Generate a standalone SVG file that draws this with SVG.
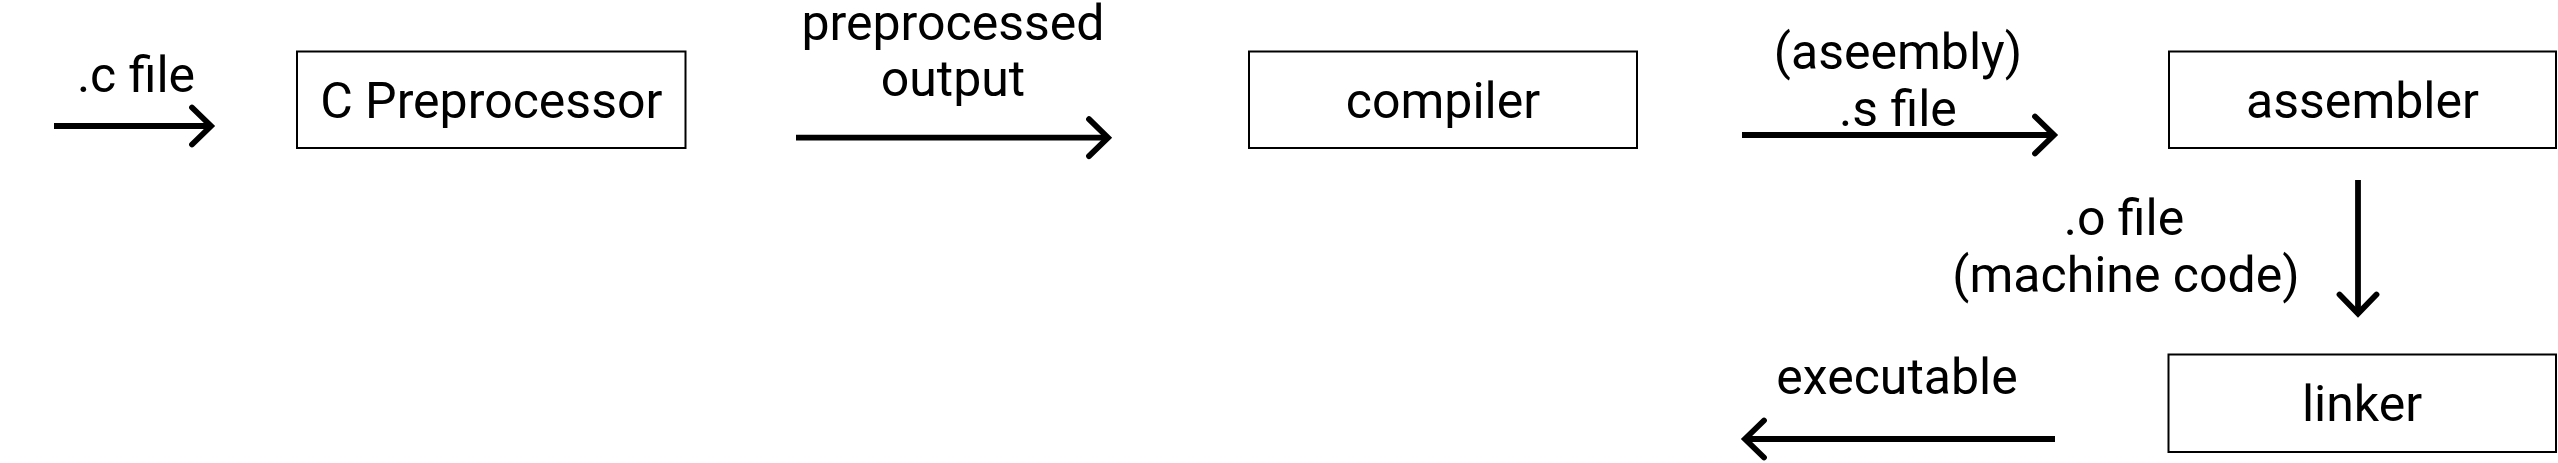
<svg xmlns="http://www.w3.org/2000/svg" width="2558" height="463" viewBox="0 0 2558 463">
  <style>
    .box { fill: #ffffff; stroke: #000000; stroke-width: 2; }
    .lbl { font-family: Roboto, "Liberation Sans", sans-serif; font-size: 50px; fill: #000000; text-anchor: middle; }
    .edge { fill: none; stroke: #000000; stroke-width: 5.8; stroke-linecap: butt; marker-end: url(#arrow); }
  </style>
  <defs>
    <marker id="arrow" markerUnits="userSpaceOnUse" viewBox="-30 -30 40 60" refX="0" refY="0" markerWidth="40" markerHeight="60" orient="auto" overflow="visible">
      <path d="M -19 -18.5 L 0 0 L -19 18.5" fill="none" stroke="#000000" stroke-width="5.8" stroke-linecap="round" stroke-linejoin="miter"/>
    </marker>
  </defs>
  <rect width="2558" height="463" fill="#ffffff"/>

  <g id="connectors">
    <g id="edge-cfile">
      <line class="edge" x1="54" y1="126" x2="211" y2="126"/>
      <text class="lbl" x="136" y="91.5">.c file</text>
    </g>
    <g id="edge-preprocessed">
      <line class="edge" x1="796" y1="137.7" x2="1108" y2="137.7"/>
      <text class="lbl" x="953" y="40">preprocessed</text>
      <text class="lbl" x="953" y="96">output</text>
    </g>
    <g id="edge-sfile">
      <line class="edge" x1="1742" y1="135" x2="2054" y2="135"/>
      <text class="lbl" x="1898" y="69">(aseembly)</text>
      <text class="lbl" x="1898" y="126">.s file</text>
    </g>
    <g id="edge-ofile">
      <line class="edge" x1="2358" y1="180" x2="2358" y2="313.5"/>
      <text class="lbl" x="2124" y="234.5">.o file</text>
      <text class="lbl" x="2126" y="292">(machine code)</text>
    </g>
    <g id="edge-executable">
      <line class="edge" x1="2055" y1="439" x2="1745" y2="439"/>
      <text class="lbl" x="1897" y="394">executable</text>
    </g>
  </g>

  <g id="node-preprocessor">
    <rect class="box" x="297" y="51.5" width="388.5" height="96.5"/>
    <text class="lbl" x="491.3" y="117.5">C Preprocessor</text>
  </g>
  <g id="node-compiler">
    <rect class="box" x="1249" y="51.5" width="388" height="96.5"/>
    <text class="lbl" x="1443" y="117.5">compiler</text>
  </g>
  <g id="node-assembler">
    <rect class="box" x="2169" y="51.5" width="387" height="96.5"/>
    <text class="lbl" x="2362.5" y="117.5">assembler</text>
  </g>
  <g id="node-linker">
    <rect class="box" x="2168.5" y="354.5" width="387.5" height="97.5"/>
    <text class="lbl" x="2362" y="421">linker</text>
  </g>
</svg>
